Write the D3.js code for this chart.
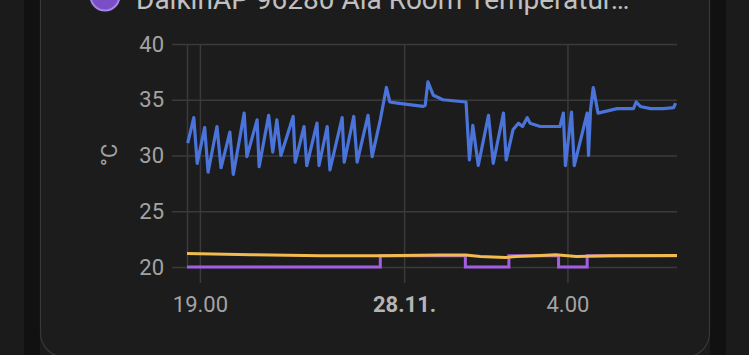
<!DOCTYPE html>
<html><head><meta charset="utf-8">
<script src="https://cdn.jsdelivr.net/npm/d3@7"></script>
<style>
html,body{margin:0;padding:0;background:#1b1b1b;overflow:hidden;}
svg{display:block;font-family:Roboto,"Noto Sans",sans-serif;}
</style></head>
<body>
<svg id="c" width="749" height="355"></svg>
<script>
// ---- data ----
const legendLabel = "DaikinAP 96280 Ala Room Temperatur…";
const yUnit = "°C";
const yTicks = [20, 25, 30, 35, 40];
const xTickTimes = ["19:00", "00:00", "04:00"];
const xTickLabels = ["19.00", "28.11.", "4.00"];
const timeWindow = ["18:41", "06:41"];

// room temperature (blue)
const blueTimes = ["18:42","18:51","18:56","19:07","19:12","19:25","19:31","19:44","19:49","20:05",
  "20:09","20:24","20:27","20:41","20:47","20:53","20:59","21:17","21:20","21:33",
  "21:37","21:52","21:55","22:07","22:11","22:29","22:32","22:46","22:51","23:07",
  "23:13","23:25","23:34","23:39","23:50","00:28","00:31","00:35","00:43","00:57",
  "01:31","01:34","01:36","01:41","01:49","02:04","02:11","02:26","02:30","02:40",
  "02:48","02:54","03:01","03:05","03:20","03:49","03:54","03:57","04:06","04:10",
  "04:29","04:31","04:34","04:38","04:45","04:59","05:13","05:37","05:41","05:47",
  "06:02","06:21","06:36","06:39"];
const blueValues = [31.1,33.4,29.3,32.5,28.5,32.6,28.9,32.1,28.3,33.8,
  29.9,33.2,29.0,33.6,30.3,33.2,30.0,33.5,29.4,32.6,
  29.1,32.9,29.1,32.6,28.7,33.4,29.4,33.5,29.4,33.6,
  29.9,33.2,36.1,34.8,34.7,34.4,34.5,36.6,35.4,35.0,
  34.8,31.7,29.6,32.7,29.1,33.6,29.3,33.8,29.6,32.3,
  32.9,32.6,33.4,32.9,32.6,32.6,33.8,29.1,33.9,29.1,
  33.8,30.0,34.1,36.1,33.8,34.0,34.2,34.2,34.8,34.4,
  34.2,34.2,34.3,34.7];

// second temperature (yellow)
const yellowTimes = ["18:41","20:15","21:58","23:25","00:53","01:30","01:52","02:29","02:44","03:21","03:43","04:13","05:04","06:41"];
const yellowValues = [21.2,21.1,21.0,21.0,21.07,21.07,20.95,20.85,20.95,21.03,21.1,20.95,21.0,21.03];

// on/off state (purple step)
const purpleTimes = ["18:41","23:25","01:30","02:34","03:47","04:29","06:41"];
const purpleValues = [20,21,20,21,20,21,21];

// ---- helpers ----
function toDate(hm){
  const [h,m] = hm.split(":").map(Number);
  return new Date(2023, 10, h >= 12 ? 27 : 28, h, m);
}

const svg = d3.select("#c");
// background panels
svg.append("rect").attr("x",24).attr("y",0).attr("width",16).attr("height",355).attr("fill","#111111");
svg.append("rect").attr("x",710).attr("y",0).attr("width",16).attr("height",355).attr("fill","#111111");
svg.append("rect").attr("x",40.5).attr("y",-60).attr("width",669).attr("height",417).attr("rx",24)
  .attr("fill","#1c1c1c").attr("stroke","#383838").attr("stroke-width",1.2);

// legend
svg.append("circle").attr("cx",105).attr("cy",-4).attr("r",14.5)
  .attr("fill","#7a4fc6").attr("stroke","#a586e4").attr("stroke-width",2);
svg.append("text").attr("x",136).attr("y",9).attr("fill","#c0c0c0")
  .attr("font-size",28).text(legendLabel);

const x = d3.scaleTime().domain(timeWindow.map(toDate)).range([187, 677]);
const y = d3.scaleLinear().domain([20, 40]).range([267, 44]);

// y axis with grid
const gy = svg.append("g").attr("transform","translate(172,0)")
  .call(d3.axisLeft(y).tickValues(yTicks).tickSize(-(677-172)).tickPadding(8));
gy.select(".domain").remove();
gy.selectAll(".tick line").attr("stroke","#3a3a3a").attr("stroke-width",1.5);
gy.selectAll(".tick text").attr("fill","#a3a3a3").attr("font-size",22).attr("font-family","Roboto");

// x axis with grid
const gx = svg.append("g").attr("transform","translate(0,44)")
  .call(d3.axisBottom(x).tickValues(xTickTimes.map(toDate))
    .tickFormat((d,i)=>xTickLabels[i]).tickSize(239).tickPadding(13));
gx.select(".domain").remove();
gx.selectAll(".tick line").attr("stroke","#3a3a3a").attr("stroke-width",1.5);
gx.selectAll(".tick text").attr("font-size",22).attr("font-family","Roboto")
  .attr("font-weight",(d,i)=> i===1 ? "bold" : "normal")
  .attr("fill",(d,i)=> i===1 ? "#b5b5b5" : "#a3a3a3");

// y axis line at plot left
svg.append("line").attr("x1",x.range()[0]+0.5).attr("x2",x.range()[0]+0.5)
  .attr("y1",y(40)).attr("y2",y(20)).attr("stroke","#3a3a3a").attr("stroke-width",1.5);

// unit label
svg.append("text").attr("transform","translate(117,155) rotate(-90)")
  .attr("text-anchor","middle").attr("fill","#a3a3a3").attr("font-size",22).text(yUnit);

// lines
const purple = purpleTimes.map((t,i)=>({d:toDate(t), v:purpleValues[i]}));
const yellow = yellowTimes.map((t,i)=>({d:toDate(t), v:yellowValues[i]}));
const blue = blueTimes.map((t,i)=>({d:toDate(t), v:blueValues[i]}));

svg.append("path").datum(purple).attr("fill","none").attr("stroke","#a35fe4").attr("stroke-width",3)
  .attr("d", d3.line().x(d=>x(d.d)).y(d=>y(d.v)).curve(d3.curveStepAfter));
svg.append("path").datum(yellow).attr("fill","none").attr("stroke","#f2bb4e").attr("stroke-width",3)
  .attr("stroke-linejoin","round")
  .attr("d", d3.line().x(d=>x(d.d)).y(d=>y(d.v)));
svg.append("path").datum(blue).attr("fill","none").attr("stroke","#4a74d9").attr("stroke-width",3.2)
  .attr("stroke-linejoin","round")
  .attr("d", d3.line().x(d=>x(d.d)).y(d=>y(d.v)));
</script>
</body></html>
